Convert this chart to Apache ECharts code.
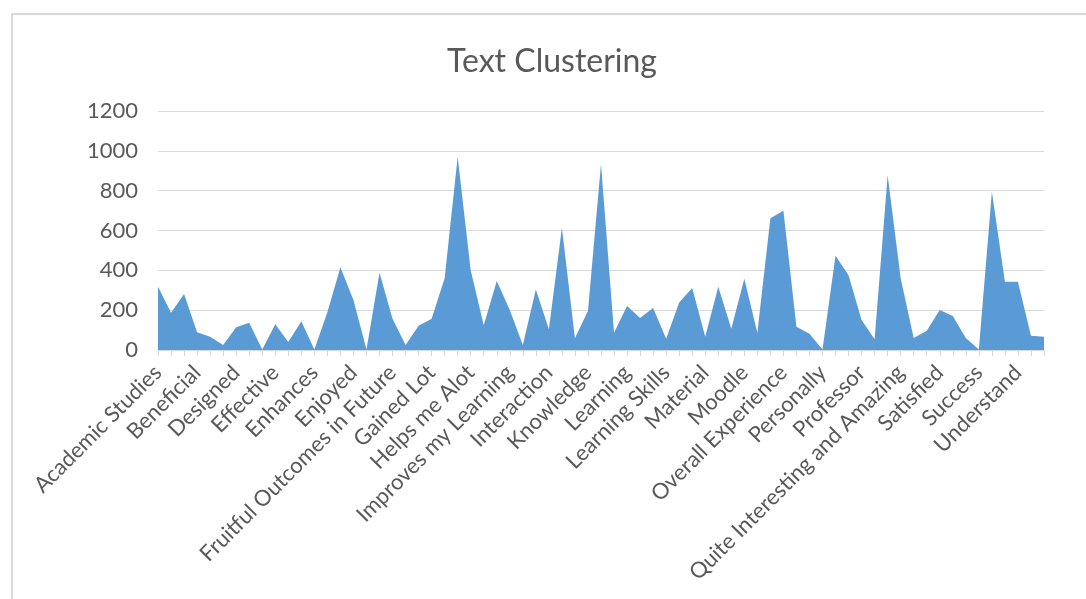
<!DOCTYPE html>
<html>
<head>
<meta charset="utf-8">
<script src="https://cdn.jsdelivr.net/npm/echarts@6/dist/echarts.min.js"></script>
<style>
html,body{margin:0;padding:0;background:#fff;}
#chart{width:1086px;height:599px;}
</style>
</head>
<body>
<div id="chart"></div>
<script>
// Visible category labels (every third category is labelled in the source)
var labelNames = ['Academic Studies','Beneficial','Designed','Effective','Enhances','Enjoyed',
  'Fruitful Outcomes in Future','Gained Lot','Helps me Alot','Improves my Learning','Interaction',
  'Knowledge','Learning','Learning Skills','Material','Moodle','Overall Experience','Personally',
  'Professor','Quite Interesting and Amazing','Satisfied','Success','Understand'];
var labelStep = 3;

// Frequency values (69 categories)
var values = [318,187,281,89,67,25,114,137,3,129,40,144,3,190,415,251,3,388,157,25,
  122,157,360,970,400,124,346,201,25,304,104,614,59,197,934,87,221,161,211,57,
  238,311,67,318,107,358,87,661,699,117,82,3,473,375,151,54,878,360,60,97,
  201,171,60,3,795,343,343,72,67];

var yTicks = {min:0, max:1200, interval:200};

var categories = values.map(function(v,i){
  return (i % labelStep === 0 && labelNames[i/labelStep] !== undefined) ? labelNames[i/labelStep] : '';
});

var chart = echarts.init(document.getElementById('chart'), null, {renderer:'canvas'});
chart.setOption({
  animation:false,
  backgroundColor:'#ffffff',
  textStyle:{fontFamily:'Lato'},
  title:{
    text:'Text Clustering',
    left:547, top:41, textAlign:'center',
    textStyle:{fontFamily:'Lato', fontSize:32, fontWeight:'normal', color:'#595959'}
  },
  graphic:[{
    type:'rect', silent:true,
    shape:{x:12, y:14, width:1100, height:620},
    style:{fill:'none', stroke:'#d9d9d9', lineWidth:2}
  }],
  grid:{left:158, right:42, top:111, bottom:249, containLabel:false},
  xAxis:{
    type:'category',
    data:categories,
    boundaryGap:false,
    axisLine:{lineStyle:{color:'#d9d9d9', width:1}},
    axisTick:{show:true, interval:0, length:6, lineStyle:{color:'#d9d9d9'}},
    axisLabel:{interval:labelStep-1, rotate:45, margin:19, color:'#595959',
      fontFamily:'Lato', fontSize:22},
    splitLine:{show:false}
  },
  yAxis:{
    type:'value',
    min:yTicks.min, max:yTicks.max, interval:yTicks.interval,
    axisLine:{show:false},
    axisTick:{show:false},
    axisLabel:{color:'#595959', fontFamily:'Lato', fontSize:22, margin:20,
      formatter:function(v){return String(v);}},
    splitLine:{lineStyle:{color:'#d9d9d9', width:1}}
  },
  series:[{
    type:'line',
    data:values,
    symbol:'none',
    lineStyle:{width:0, color:'#5b9bd5'},
    areaStyle:{color:'#5b9bd5', opacity:1},
    itemStyle:{color:'#5b9bd5'}
  }]
});
</script>
</body>
</html>
